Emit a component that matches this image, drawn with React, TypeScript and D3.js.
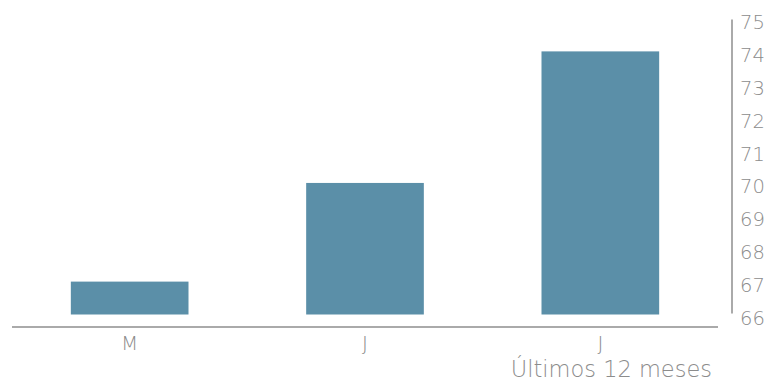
import React from "react";
import * as d3 from "d3";

// Months shown on the category axis and the indicator value for each
const months: string[] = ["M", "J", "J"];
const values: number[] = [67, 70, 74];
// Right-hand axis ticks
const yTicks: number[] = [66, 67, 68, 69, 70, 71, 72, 73, 74, 75];
const caption = "Últimos 12 meses";

const W = 771;
const H = 385;
const BAR = "#5b8fa8";
const AXIS = "#aaaaaa";
const TEXT = "#8c8c8c";
const FONT = "'DejaVu Sans', 'Liberation Sans', sans-serif";

export default function App() {
  const x = d3
    .scaleBand<number>()
    .domain(months.map((_, i) => i))
    .range([12, 718])
    .paddingInner(0.5)
    .paddingOuter(0.25);

  const y = d3.scaleLinear().domain([66, 75]).range([314.5, 18.5]);

  const baseY = 327;

  return (
    <svg
      width={W}
      height={H}
      style={{ position: "absolute", left: 0, top: 0, background: "#fff" }}
    >
      {/* bars */}
      {values.map((v, i) => (
        <rect
          key={i}
          x={x(i)}
          y={y(v)}
          width={x.bandwidth()}
          height={y(66) - y(v)}
          fill={BAR}
        />
      ))}

      {/* category axis */}
      <line x1={12} x2={718} y1={baseY} y2={baseY} stroke={AXIS} strokeWidth={2} />
      {months.map((m, i) => (
        <text
          key={i}
          x={(x(i) as number) + x.bandwidth() / 2}
          y={343}
          textAnchor="middle"
          dominantBaseline="central"
          fill={TEXT}
          fontFamily={FONT}
          fontWeight={200}
          fontSize={20}
        >
          {m}
        </text>
      ))}

      {/* value axis on the right */}
      <line x1={732} x2={732} y1={y(75) + 1} y2={y(66) - 1} stroke={AXIS} strokeWidth={2} />
      {yTicks.map((t) => (
        <text
          key={t}
          x={740}
          y={y(t) + 4}
          dominantBaseline="central"
          fill={TEXT}
          fontFamily={FONT}
          fontWeight={200}
          fontSize={19.5}
        >
          {t}
        </text>
      ))}

      <text
        x={712}
        y={377}
        textAnchor="end"
        fill={TEXT}
        fontFamily={FONT}
        fontWeight={200}
        fontSize={22.5}
      >
        {caption}
      </text>
    </svg>
  );
}
